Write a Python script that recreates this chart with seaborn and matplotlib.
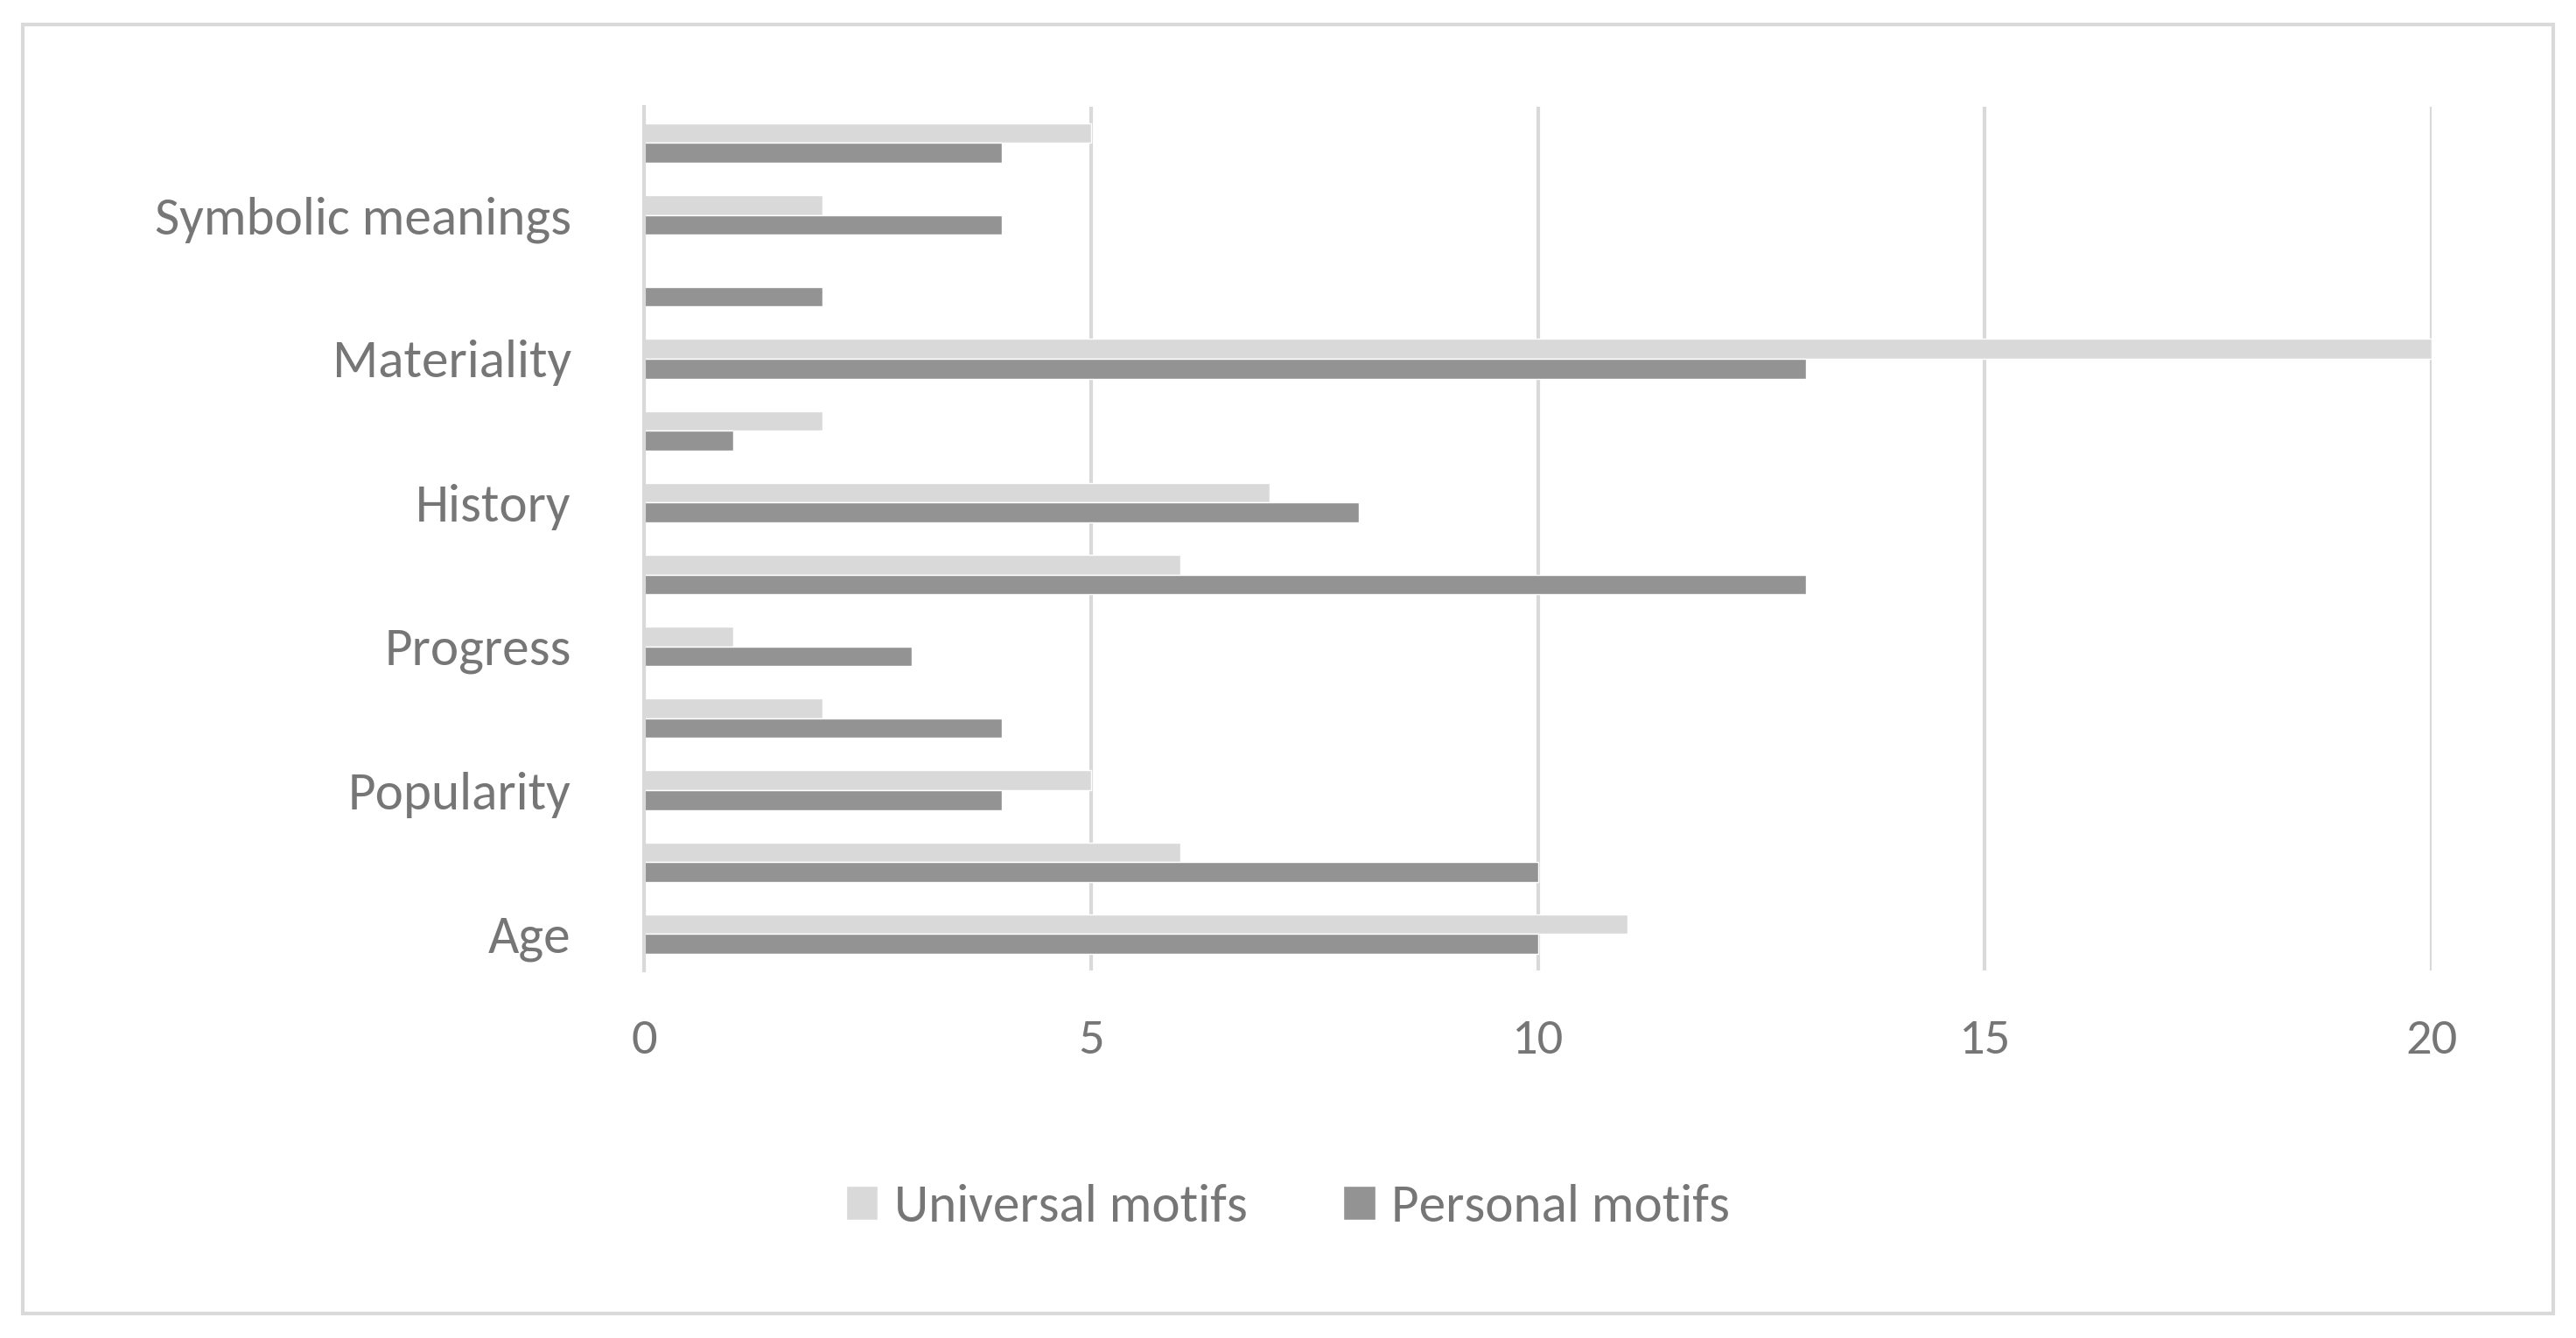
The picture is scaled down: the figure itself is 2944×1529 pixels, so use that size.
import matplotlib
matplotlib.use("Agg")
import matplotlib.pyplot as plt
import seaborn as sns
import pandas as pd
from matplotlib.patches import Rectangle

categories = ["c12", "Symbolic meanings", "c10", "Materiality", "c8", "History",
              "c6", "Progress", "c4", "Popularity", "c2", "Age"]
tick_labels = ["", "Symbolic meanings", "", "Materiality", "", "History",
               "", "Progress", "", "Popularity", "", "Age"]
universal = [5, 2, 0, 20, 2, 7, 6, 1, 2, 5, 6, 11]
personal = [4, 4, 2, 13, 1, 8, 13, 3, 4, 4, 10, 10]
series = ["Universal motifs", "Personal motifs"]

df = pd.DataFrame({
    "cat": categories * 2,
    "val": universal + personal,
    "series": [series[0]] * len(categories) + [series[1]] * len(categories),
})

sns.set_style("white")
plt.rcParams['font.family'] = ['Calibri', 'Carlito', 'Open Sans', 'DejaVu Sans']
fig = plt.figure(figsize=(29.44, 15.29), dpi=100)
ax = fig.add_axes([0.25, 0.275, 0.694, 0.645])
grey = "#767676"
sns.barplot(data=df, y="cat", x="val", hue="series", order=categories,
            hue_order=series, palette=["#d9d9d9", "#939393"], width=0.55,
            orient="h", ax=ax, legend=True, saturation=1)
ax.set_xlim(0, 20)
ax.set_ylim(11.5, -0.5)
ax.set_xticks([0, 5, 10, 15, 20])
ax.set_yticks(range(len(categories)))
ax.set_yticklabels(tick_labels)
ax.xaxis.grid(True, color="#d9d9d9", linewidth=3)
ax.set_axisbelow(True)
for s in ["top", "right", "bottom"]:
    ax.spines[s].set_visible(False)
ax.spines["left"].set_color("#d9d9d9")
ax.spines["left"].set_linewidth(3)
ax.tick_params(axis="y", labelsize=44, colors=grey, length=0, pad=60)
ax.tick_params(axis="x", labelsize=42, colors=grey, length=0, pad=40)
ax.set_xlabel("")
ax.set_ylabel("")
h, l = ax.get_legend_handles_labels()
ax.get_legend().remove()
fig.legend(h, l, loc="center", bbox_to_anchor=(0.5, 0.098), ncol=2, frameon=False,
           fontsize=44, labelcolor=grey, handlelength=0.6, handleheight=0.6,
           columnspacing=1.8, handletextpad=0.3)
fig.patches.append(Rectangle((0.009, 0.018), 0.982, 0.964, transform=fig.transFigure,
                             fill=False, edgecolor="#d9d9d9", linewidth=3))
fig.savefig("out.png", dpi=100)
